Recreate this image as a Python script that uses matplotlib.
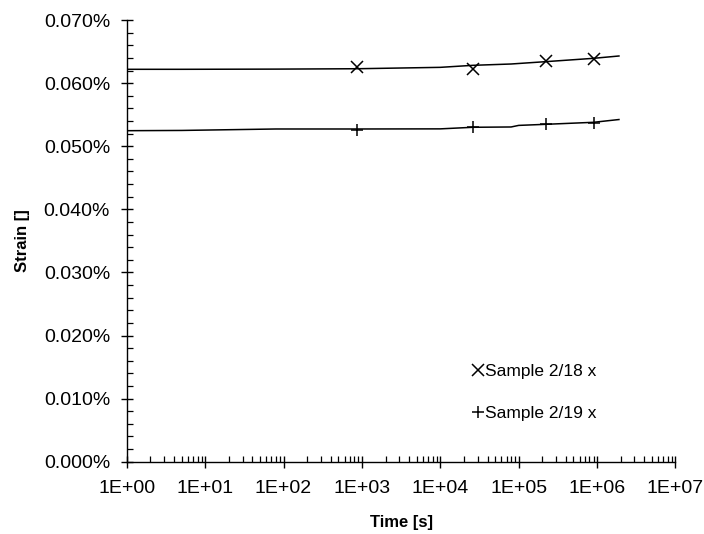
import math
import matplotlib
matplotlib.use("Agg")
import matplotlib.pyplot as plt
from matplotlib.ticker import FixedLocator, FuncFormatter, LogLocator, NullFormatter

plt.rcParams['font.family'] = ['Liberation Sans', 'DejaVu Sans']

# continuous records (time in s, strain in %)
line_18_t = [1, 5, 80, 870, 1.0e4, 2.6e4, 8.0e4, 2.2e5, 9.0e5, 1.9e6]
line_18_s = [0.06219, 0.06219, 0.06222, 0.06228, 0.06250, 0.06282, 0.06303, 0.06340, 0.06393, 0.06430]
line_19_t = [1, 5, 80, 870, 1.0e4, 2.6e4, 8.0e4, 1.0e5, 2.2e5, 9.0e5, 1.9e6]
line_19_s = [0.05246, 0.05250, 0.05273, 0.05273, 0.05275, 0.05300, 0.05305, 0.05330, 0.05347, 0.05379, 0.05423]

# measured points
pts_18_t = [870, 2.6e4, 2.2e5, 9.1e5]
pts_18_s = [0.0625, 0.0622, 0.0635, 0.0638]
pts_19_t = [870, 2.6e4, 2.2e5, 9.0e5]
pts_19_s = [0.0526, 0.0530, 0.0535, 0.0537]

labels = ['Sample 2/18 x', 'Sample 2/19 x']
y_ticks = [0.0, 0.01, 0.02, 0.03, 0.04, 0.05, 0.06, 0.07]
x_ticks = [1e0, 1e1, 1e2, 1e3, 1e4, 1e5, 1e6, 1e7]

fig = plt.figure(figsize=(7.04, 5.34), dpi=100)
ax = fig.add_axes([0.18, 0.1354, 0.7795, 0.8271])

ax.plot(line_18_t, line_18_s, color='black', lw=1.1)
ax.plot(line_19_t, line_19_s, color='black', lw=1.1)
h1, = ax.plot(pts_18_t, pts_18_s, ls='none', marker='x', ms=8, mew=1.1, color='black')
h2, = ax.plot(pts_19_t, pts_19_s, ls='none', marker='+', ms=9, mew=1.1, color='black')

ax.set_xscale('log')
ax.set_xlim(1, 1e7)
ax.set_ylim(0, 0.07)

ax.xaxis.set_major_locator(FixedLocator(x_ticks))
ax.xaxis.set_major_formatter(FuncFormatter(lambda v, p: '1E+%02d' % round(math.log10(v))))
ax.xaxis.set_minor_locator(LogLocator(base=10, subs=range(2, 10), numticks=20))
ax.xaxis.set_minor_formatter(NullFormatter())

ax.yaxis.set_major_locator(FixedLocator(y_ticks))
ax.yaxis.set_major_formatter(FuncFormatter(lambda v, p: '%.3f%%' % v))
ax.yaxis.set_minor_locator(FixedLocator([i * 0.002 for i in range(36)]))

for s in ['top', 'right']:
    ax.spines[s].set_visible(False)
for s in ['left', 'bottom']:
    ax.spines[s].set_linewidth(1.0)

ax.tick_params(which='major', direction='inout', length=8, width=1.0, labelsize=14)
ax.tick_params(axis='x', which='major', pad=9)
ax.tick_params(axis='y', which='major', pad=8)
ax.tick_params(which='minor', direction='in', length=4.5, width=0.9)

ax.set_xlabel('Time [s]', fontsize=12, fontweight='bold', labelpad=13)
ax.set_ylabel('Strain []', fontsize=12, fontweight='bold', labelpad=10)

ax.legend([h1, h2], labels, loc='center left', bbox_to_anchor=(0.60, 0.156),
          frameon=False, fontsize=12.5, handlelength=0.7, handletextpad=0.1,
          labelspacing=1.55)

fig.savefig('out.png', dpi=100)
